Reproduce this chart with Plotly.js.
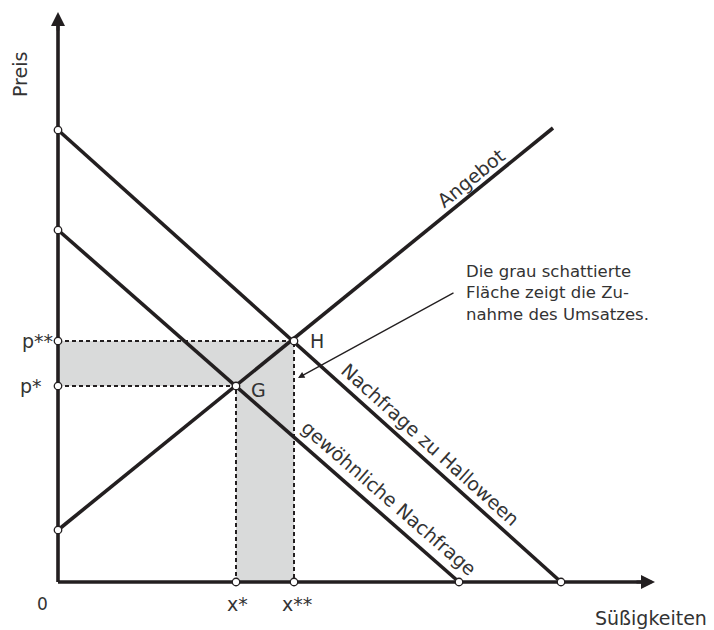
<!DOCTYPE html>
<html>
<head>
<meta charset="utf-8">
<script src="https://cdn.plot.ly/plotly-3.0.1.min.js"></script>
<style>html,body{margin:0;padding:0;background:#fff;}#chart{width:714px;height:630px;}</style>
</head>
<body>
<div id="chart"></div>
<script>
// Conceptual units (quantity, price)
const supplyX = [0, 495];
const supplyY = [52, 454];
const demandX = [0, 401];
const demandY = [352, 0];
const halloweenX = [0, 503];
const halloweenY = [452, 0];
const eqG = [178, 196];   // x*, p*
const eqH = [236, 241];   // x**, p**
const axisEnd = [597, 570];

const lineColor = '#231f20';
const textColor = '#333333';
const font = 'DejaVu Sans, sans-serif';

const gray = {
  x: [0, 0, eqH[0], eqH[0], eqG[0], eqG[0], 0],
  y: [eqG[1], eqH[1], eqH[1], 0, 0, eqG[1], eqG[1]],
  fill: 'toself', fillcolor: '#d9dada', mode: 'none', hoverinfo: 'skip', showlegend: false
};
function dotted(xs, ys) {
  return {x: xs, y: ys, mode: 'lines', line: {color: lineColor, width: 2, dash: '4px,3px'}, showlegend: false, hoverinfo: 'skip'};
}
function solid(xs, ys) {
  return {x: xs, y: ys, mode: 'lines', line: {color: lineColor, width: 3.6}, showlegend: false, hoverinfo: 'skip'};
}
const traces = [
  gray,
  dotted([0, eqH[0], eqH[0]], [eqH[1], eqH[1], 0]),
  dotted([0, eqG[0], eqG[0]], [eqG[1], eqG[1], 0]),
  solid([0, axisEnd[0] - 8], [0, 0]),
  solid([0, 0], [0, axisEnd[1] - 8]),
  solid(supplyX, supplyY),
  solid(demandX, demandY),
  solid(halloweenX, halloweenY),
  {
    x: [0, 0, 0, 0, 0, demandX[1], halloweenX[1], eqG[0], eqH[0], eqG[0], eqH[0]],
    y: [halloweenY[0], demandY[0], supplyY[0], eqG[1], eqH[1], 0, 0, 0, 0, eqG[1], eqH[1]],
    mode: 'markers',
    marker: {size: 7.5, color: '#ffffff', line: {color: lineColor, width: 1.3}},
    showlegend: false, hoverinfo: 'skip'
  }
];

function lab(text, x, y, opts) {
  return Object.assign({text: text, x: x, y: y, xref: 'x', yref: 'y', showarrow: false,
    font: {family: font, size: 19, color: textColor}}, opts || {});
}
const annotations = [
  // axis arrowheads
  {x: axisEnd[0], y: 0, ax: axisEnd[0] - 20, ay: 0, xref: 'x', yref: 'y', axref: 'x', ayref: 'y',
   showarrow: true, arrowhead: 2, arrowsize: 1, arrowwidth: 2.8, arrowcolor: lineColor, text: ''},
  {x: 0, y: axisEnd[1], ax: 0, ay: axisEnd[1] - 20, xref: 'x', yref: 'y', axref: 'x', ayref: 'y',
   showarrow: true, arrowhead: 2, arrowsize: 1, arrowwidth: 2.8, arrowcolor: lineColor, text: ''},
  lab('Preis', -38, 507, {textangle: -90}),
  lab('Süßigkeiten', 593, -36),
  lab('0', -16, -22, {font: {family: font, size: 17, color: textColor}}),
  lab('x*', eqG[0] + 1, -22),
  lab('x**', eqH[0] + 3, -22),
  lab('p**', -21, eqH[1]),
  lab('p*', -27, eqG[1]),
  lab('G', eqG[0] + 22, eqG[1] - 4),
  lab('H', eqH[0] + 23, eqH[1]),
  lab('Angebot', 413, 404, {textangle: -39}),
  lab('Nachfrage zu Halloween', 372, 138, {textangle: 42}),
  lab('gewöhnliche Nachfrage', 331, 84, {textangle: 41}),
  lab('Die grau schattierte<br>Fläche zeigt die Zu-<br>nahme des Umsatzes.', 406, 289,
      {xanchor: 'left', align: 'left', font: {family: font, size: 16.5, color: textColor}}),
  {x: eqH[0] + 4, y: 204, ax: 397, ay: 290, xref: 'x', yref: 'y', axref: 'x', ayref: 'y',
   showarrow: true, arrowhead: 2, arrowsize: 1, arrowwidth: 1.3, arrowcolor: lineColor, text: ''}
];

const layout = {
  width: 714, height: 630,
  margin: {l: 0, r: 0, t: 0, b: 0},
  paper_bgcolor: '#ffffff', plot_bgcolor: '#ffffff',
  xaxis: {range: [-58, 656], visible: false, fixedrange: true},
  yaxis: {range: [-48, 582], visible: false, fixedrange: true},
  showlegend: false,
  annotations: annotations
};
Plotly.newPlot('chart', traces, layout, {displayModeBar: false, staticPlot: true});
</script>
</body>
</html>
